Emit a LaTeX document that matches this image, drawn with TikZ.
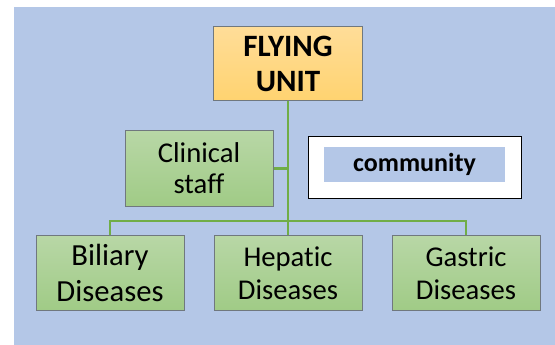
\documentclass[tikz,border=0pt]{standalone}
\usepackage{fontspec}
\setmainfont{Carlito}[Ligatures=NoCommon]
\definecolor{pagebg}{RGB}{180,199,231}
\definecolor{unittop}{RGB}{255,221,152}
\definecolor{unitbottom}{RGB}{255,211,112}
\definecolor{wardtop}{RGB}{184,215,166}
\definecolor{wardbottom}{RGB}{160,203,134}
\definecolor{boxline}{RGB}{112,120,126}
\definecolor{linkgreen}{RGB}{112,173,71}

\begin{document}
\begin{tikzpicture}[x=0.75pt, y=-0.75pt,
    unitbox/.style={draw=boxline, line width=0.75pt, top color=unittop, bottom color=unitbottom,
        minimum width=111.75pt, minimum height=55.5pt, inner sep=0pt, align=center,
        font=\fontsize{23.3}{26.8}\selectfont\bfseries},
    wardbox/.style={draw=boxline, line width=0.75pt, top color=wardtop, bottom color=wardbottom,
        minimum width=111pt, minimum height=56pt, inner sep=0pt, align=center,
        font=\fontsize{21.5}{25}\selectfont},
    link/.style={linkgreen, line width=2pt}]
        % Page
        \useasboundingbox (0,0) rectangle (555,345);
        \fill[pagebg] (14,7.3) rectangle (555,345);

        % Top: the unit
        \node[unitbox] (flying) at (288,64) {FLYING\\UNIT};

        % Middle: staff and community
        \node[wardbox, minimum height=56.25pt, font=\fontsize{21.5}{23.2}\selectfont] (clinical) at (199,168.5) {Clinical\\staff};
        \node[draw=black, line width=0.75pt, fill=white, minimum width=159.75pt, minimum height=46.5pt] (frame) at (414.5,167.5) {};
        \node[fill=pagebg, minimum width=135.75pt, minimum height=26.25pt, inner sep=0pt,
            font=\fontsize{19.5}{22}\selectfont\bfseries] (community) at (414.5,164.5) {community};

        % Bottom: the diseases
        \node[wardbox, font=\fontsize{23}{27}\selectfont] (biliary) at (110,273) {Biliary\\Diseases};
        \node[wardbox] (hepatic) at (288,273) {Hepatic\\Diseases};
        \node[wardbox] (gastric) at (466,273) {Gastric\\Diseases};

        % Connections
        \coordinate (bus) at (288,221);
        \draw[link] (flying) -- (hepatic);
        \draw[link] (clinical) -- (clinical -| flying);
        \foreach \d in {biliary, gastric} {
            \draw[link] (bus) -| (\d);
        }
\end{tikzpicture}
\end{document}
